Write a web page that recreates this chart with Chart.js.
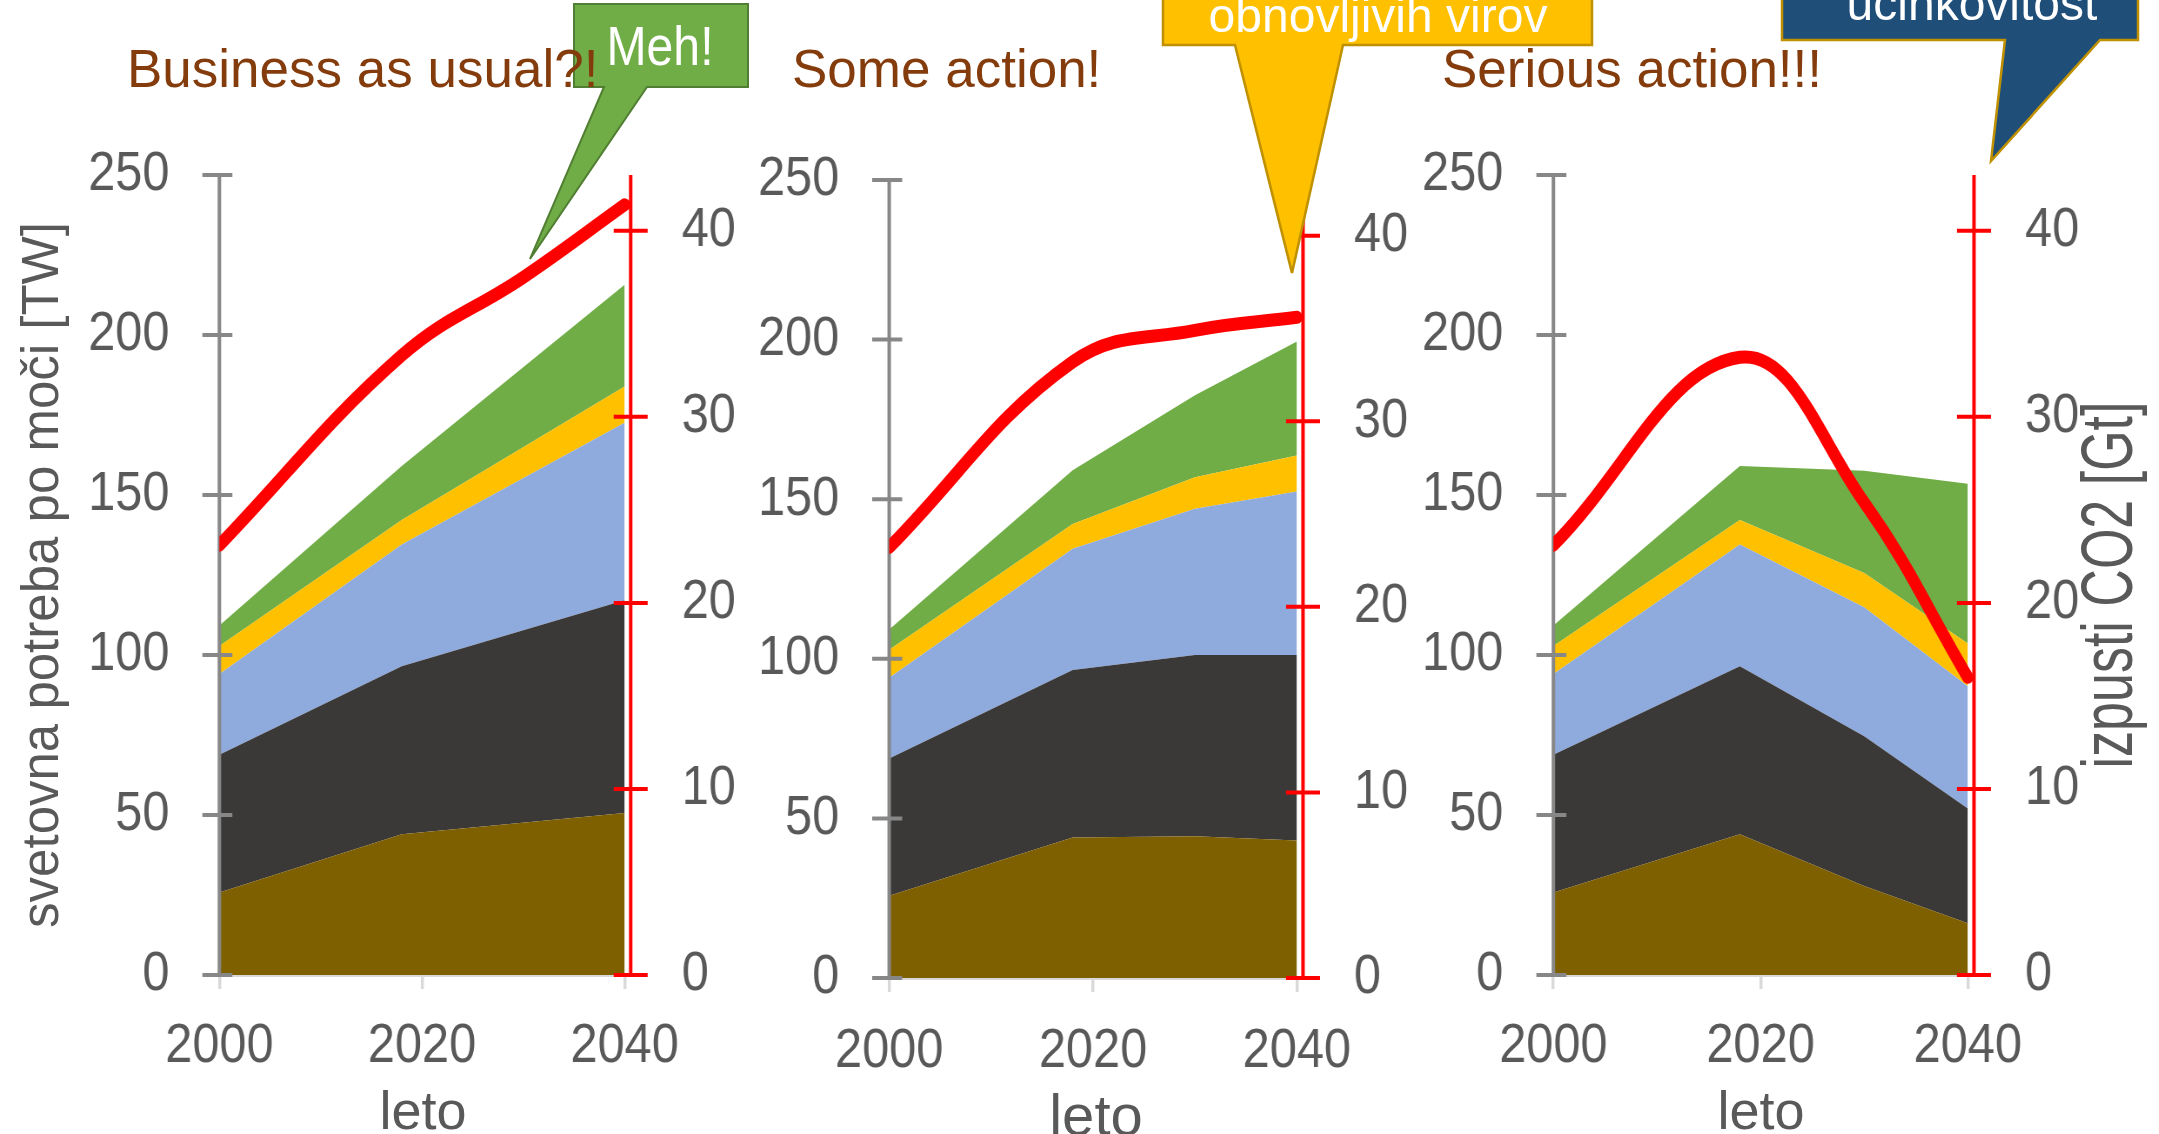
<!DOCTYPE html>
<html>
<head>
<meta charset="utf-8">
<title>Svetovna potreba po moči</title>
<script src="https://cdn.jsdelivr.net/npm/chart.js@4.4.1/dist/chart.umd.min.js"></script>
<style>
  body { margin: 0; background: #fff; }
  #stage { position: relative; width: 2159px; height: 1134px; overflow: hidden; background: #fff; }
  #stage canvas { position: absolute; top: 0; }
  #stage svg { position: absolute; left: 0; top: 0; pointer-events: none; }
</style>
</head>
<body>
<div id="stage">
  <canvas id="bau"></canvas>
  <canvas id="some"></canvas>
  <canvas id="serious"></canvas>

  <svg width="2159" height="1134" font-family="Liberation Sans, Arial, sans-serif">
    <!-- oblački -->
    <path d="M574,4 H748 V87 H647 L530,259 L604,87 H574 Z" fill="#70AD47" stroke="#507E32" stroke-width="2"/>
    <text transform="translate(660,65) scale(0.86,1)" font-size="56" fill="#fff" text-anchor="middle">Meh!</text>

    <path d="M1163,-10 H1592 V45 H1343 L1292,273 L1235,45 H1163 Z" fill="#FFC000" stroke="#BF9000" stroke-width="2.5"/>
    <text x="1378" y="32" font-size="48" fill="#fff" text-anchor="middle">obnovljivih virov</text>

    <path d="M1782,-10 H2138 V40 H2100 L1991,161 L2005,40 H1782 Z" fill="#1F4E79" stroke="#BF9000" stroke-width="2.5"/>
    <text x="1972" y="20" font-size="48" fill="#fff" text-anchor="middle">učinkovitost</text>

    <!-- naslovi scenarijev -->
    <text x="127" y="87" font-size="53" fill="#843C0C">Business as usual?!</text>
    <text x="792" y="87" font-size="53" fill="#843C0C">Some action!</text>
    <text x="1442" y="87" font-size="53" fill="#843C0C">Serious action!!!</text>

    <!-- naslovi osi -->
    <text transform="translate(58,575) rotate(-90)" font-size="51" fill="#595959" text-anchor="middle">svetovna potreba po moči [TW]</text>
    <text transform="translate(2132,585) rotate(-90) scale(1,1.4)" font-size="52" fill="#595959" text-anchor="middle">izpusti CO2 [Gt]</text>
    <text x="423" y="1129" font-size="54" fill="#595959" text-anchor="middle">leto</text>
    <text x="1096" y="1135" font-size="58" fill="#595959" text-anchor="middle">leto</text>
    <text x="1761" y="1129" font-size="54" fill="#595959" text-anchor="middle">leto</text>
  </svg>
</div>

<script>
const FONT = '"Liberation Sans", Arial, sans-serif';
const squeeze = 0.87; // grafikoni so vodoravno stisnjeni

const years3 = [2000, 2018, 2040];
const years4 = [2000, 2018, 2030, 2040];
const xTicks = [2000, 2020, 2040];
const powerTicks = [0, 50, 100, 150, 200, 250];
const co2Ticks = [0, 10, 20, 30, 40];

// Business as usual (TW, plasti od spodaj navzgor)
const bauBrown  = [25.8, 44.0, 50.6];
const bauDark   = [43.0, 52.5, 66.5];
const bauBlue   = [25.3, 38.0, 55.5];
const bauYellow = [8.7, 7.7, 11.3];
const bauGreen  = [6.4, 16.9, 31.8];
const bauCo2    = [23.1, 33.3, 37.5, 41.4];

// Some action
const someBrown  = [25.8, 44.0, 44.4, 43.1];
const someDark   = [43.0, 52.5, 56.8, 58.1];
const someBlue   = [25.3, 38.0, 45.8, 51.2];
const someYellow = [8.7, 7.7, 9.9, 11.3];
const someGreen  = [6.4, 16.9, 25.7, 35.7];
const someCo2    = [23.2, 33.2, 34.9, 35.6];

// Serious action
const seriousBrown  = [25.8, 44.0, 27.8, 16.2];
const seriousDark   = [43.0, 52.5, 46.8, 35.8];
const seriousBlue   = [25.3, 38.0, 40.3, 38.2];
const seriousYellow = [8.7, 7.7, 10.7, 13.4];
const seriousGreen  = [6.4, 16.9, 32.0, 49.9];
const seriousCo2    = [23.1, 33.2, 25.4, 16.0];

const colors = {
  brown: '#7F6000', dark: '#3B3838', blue: '#8FAADC',
  yellow: '#FFC000', green: '#70AD47', co2: '#FF0000'
};

const pts = (xs, ys) => xs.map((x, i) => ({ x: x, y: ys[i] }));

function layer(xs, ys, color, fill) {
  return {
    data: pts(xs, ys), yAxisID: 'y', fill: fill,
    backgroundColor: color, borderColor: 'rgba(0,0,0,0)', borderWidth: 0,
    pointRadius: 0, tension: 0
  };
}

// sivo levo os in rdečo desno os rišemo s prečnimi oznakami, pod rdečo črto
function drawAxis(ctx, scale, x, color, out, inn) {
  ctx.strokeStyle = color;
  ctx.lineWidth = 3.5 / squeeze;
  ctx.beginPath();
  ctx.moveTo(x, scale.top);
  ctx.lineTo(x, scale.bottom);
  ctx.stroke();
  ctx.lineWidth = 4;
  scale.ticks.forEach(t => {
    const y = scale.getPixelForValue(t.value);
    ctx.beginPath();
    ctx.moveTo(x - out / squeeze, y);
    ctx.lineTo(x + inn / squeeze, y);
    ctx.stroke();
  });
}

const axisLines = {
  id: 'axisLines',
  beforeDatasetDraw(chart, args) {
    if (args.index !== 0) return;
    const { ctx, chartArea, scales } = chart;
    ctx.save();
    drawAxis(ctx, scales.y, chartArea.left, '#878787', 17, 13);
    drawAxis(ctx, scales.y2, chartArea.right, '#FF0000', 17, 17);
    ctx.restore();
  }
};

function makeChart(id, p) {
  const canvas = document.getElementById(id);
  canvas.width = Math.round(p.width / squeeze);
  canvas.height = 1134;
  canvas.style.left = p.left + 'px';
  canvas.style.width = (canvas.width * squeeze) + 'px';
  canvas.style.height = '1134px';

  const leftW = (p.plotLeft - p.left) / squeeze;
  const rightW = (p.left + canvas.width * squeeze - p.plotRight) / squeeze;
  const tickFont = { family: FONT, size: 56 };

  return new Chart(canvas, {
    type: 'line',
    data: {
      datasets: [
        {
          data: pts(years4, p.co2), yAxisID: 'y2', fill: false,
          borderColor: colors.co2, borderWidth: 13, tension: 0.4,
          borderCapStyle: 'round', borderJoinStyle: 'round', pointRadius: 0
        },
        layer(p.years, p.brown, colors.brown, 'origin'),
        layer(p.years, p.dark, colors.dark, '-1'),
        layer(p.years, p.blue, colors.blue, '-1'),
        layer(p.years, p.yellow, colors.yellow, '-1'),
        layer(p.years, p.green, colors.green, '-1')
      ]
    },
    plugins: [axisLines],
    options: {
      responsive: false,
      animation: false,
      devicePixelRatio: 1,
      layout: { padding: { top: p.top, left: 0, right: 0, bottom: 0 } },
      plugins: { legend: { display: false }, tooltip: { enabled: false } },
      scales: {
        x: {
          type: 'linear', min: 2000, max: 2040.6,
          afterBuildTicks: s => { s.ticks = xTicks.map(v => ({ value: v })); },
          afterFit: s => { s.height = 1134 - p.bottom; },
          grid: { drawOnChartArea: false, color: '#D9D9D9', lineWidth: 3 / squeeze, tickLength: 14 },
          border: { color: '#D9D9D9', width: 3 },
          ticks: {
            font: tickFont, color: '#595959', padding: p.xPad,
            maxRotation: 0, autoSkip: false, callback: v => String(v)
          }
        },
        y: {
          position: 'left', min: 0, max: 250, stacked: true,
          afterBuildTicks: s => { s.ticks = powerTicks.map(v => ({ value: v })); },
          afterFit: s => { s.width = leftW; },
          grid: { display: false, drawTicks: false },
          border: { display: false },
          ticks: { font: tickFont, color: '#595959', padding: 50 / squeeze }
        },
        y2: {
          position: 'right', min: 0, max: 43,
          afterBuildTicks: s => { s.ticks = co2Ticks.map(v => ({ value: v })); },
          afterFit: s => { s.width = rightW; },
          grid: { display: false, drawTicks: false },
          border: { display: false },
          ticks: { font: tickFont, color: '#595959', padding: 51 / squeeze }
        }
      }
    }
  });
}

makeChart('bau', {
  years: years3, brown: bauBrown, dark: bauDark, blue: bauBlue,
  yellow: bauYellow, green: bauGreen, co2: bauCo2,
  left: 0, width: 760, plotLeft: 219.5, plotRight: 631, top: 175, bottom: 975, xPad: 24
});

makeChart('some', {
  years: years4, brown: someBrown, dark: someDark, blue: someBlue,
  yellow: someYellow, green: someGreen, co2: someCo2,
  left: 680, width: 760, plotLeft: 889.3, plotRight: 1303.3, top: 180, bottom: 978, xPad: 26
});

makeChart('serious', {
  years: years4, brown: seriousBrown, dark: seriousDark, blue: seriousBlue,
  yellow: seriousYellow, green: seriousGreen, co2: seriousCo2,
  left: 1400, width: 759, plotLeft: 1553.3, plotRight: 1973.7, top: 175, bottom: 975, xPad: 24
});
</script>
</body>
</html>
